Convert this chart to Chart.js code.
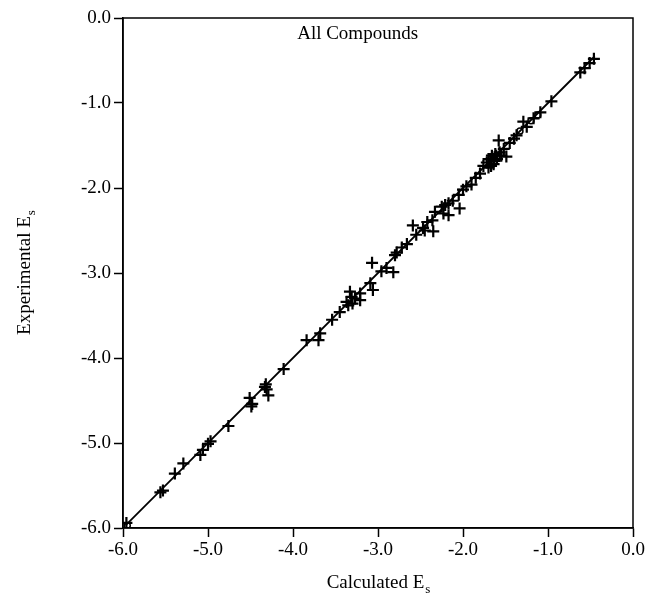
<!DOCTYPE html>
<html>
<head>
<meta charset="utf-8">
<script src="https://cdn.jsdelivr.net/npm/chart.js@4/dist/chart.umd.min.js"></script>
<style>
  html, body { margin: 0; padding: 0; background: #fff; }
  #wrap { width: 648px; height: 595px; position: relative; }
</style>
</head>
<body>
<div id="wrap"><canvas id="c" width="648" height="595"></canvas></div>
<script>
// ---- data ----
const plotTitle = "All Compounds";
const xTitle = ["Calculated E", "s"];
const yTitle = ["Experimental E", "s"];
const tickValues = [-6, -5, -4, -3, -2, -1, 0];

const calcX = [-5.96, -5.56, -5.53, -5.39, -5.29, -5.09, -5.06, -5.00, -4.97, -4.76,
  -4.51, -4.49, -4.48, -4.33, -4.31, -4.29, -4.32, -4.11, -3.84, -3.70,
  -3.68, -3.54, -3.45, -3.37, -3.33, -3.27, -3.21, -3.21, -3.30, -3.06,
  -3.09, -3.07, -2.96, -2.90, -2.82, -2.80, -2.78, -2.72, -2.66, -2.59,
  -2.55, -2.47, -2.45, -2.35, -2.33, -2.36, -2.21, -2.23, -2.17, -2.17,
  -2.04, -2.05, -2.00, -1.96, -1.90, -1.85, -1.80, -1.76, -1.72, -1.70,
  -1.68, -1.66, -1.64, -1.62, -1.60, -1.58, -1.57, -1.55, -1.49, -1.52,
  -1.45, -1.40, -1.37, -1.29, -1.25, -1.17, -1.09, -0.96, -0.62, -0.57,
  -0.51, -0.46, -1.67, -1.63, -1.61, -1.70, -2.25, -2.12, -2.42, -3.31,
  -3.35];
const expY = [-5.94, -5.58, -5.56, -5.36, -5.24, -5.14, -5.08, -5.01, -4.98, -4.80,
  -4.47, -4.57, -4.54, -4.34, -4.37, -4.44, -4.31, -4.13, -3.79, -3.79,
  -3.71, -3.55, -3.46, -3.34, -3.22, -3.30, -3.32, -3.24, -3.36, -3.20,
  -3.12, -2.88, -2.98, -2.94, -2.99, -2.79, -2.76, -2.70, -2.66, -2.44,
  -2.55, -2.47, -2.50, -2.51, -2.28, -2.38, -2.20, -2.30, -2.32, -2.18,
  -2.24, -2.08, -2.02, -1.98, -1.96, -1.88, -1.83, -1.74, -1.70, -1.76,
  -1.66, -1.62, -1.72, -1.60, -1.66, -1.44, -1.58, -1.62, -1.63, -1.54,
  -1.47, -1.42, -1.38, -1.22, -1.28, -1.18, -1.11, -0.98, -0.64, -0.59,
  -0.53, -0.48, -1.74, -1.68, -1.62, -1.66, -2.22, -2.15, -2.40, -3.28,
  -3.38];

const circleX = [-5.95, -1.33, -1.20, -1.12];
const circleY = [-5.97, -1.33, -1.21, -1.14];

const fitX = [-5.97, -0.45];
const fitY = [-5.97, -0.45];

// ---- build ----
const zip = (xs, ys) => xs.map((x, i) => ({ x: x, y: ys[i] }));
const SERIF = "'Liberation Serif', 'Times New Roman', serif";

const framePlugin = {
  id: 'frame',
  afterDraw(chart) {
    const { ctx, chartArea: a } = chart;
    ctx.save();
    ctx.strokeStyle = '#000';
    ctx.lineWidth = 1.5;
    ctx.strokeRect(a.left, a.top, a.right - a.left, a.bottom - a.top);
    // inner title
    ctx.fillStyle = '#000';
    ctx.font = "19px " + SERIF;
    ctx.textAlign = 'center';
    ctx.textBaseline = 'middle';
    ctx.fillText(plotTitle, a.left + (a.right - a.left) * 0.46, a.top + 16);

    // axis titles with subscript
    function drawSub(parts, cx, cy, rot) {
      ctx.save();
      ctx.translate(cx, cy);
      ctx.rotate(rot);
      ctx.font = "19px " + SERIF;
      const w1 = ctx.measureText(parts[0]).width;
      ctx.font = "13px " + SERIF;
      const w2 = ctx.measureText(parts[1]).width;
      const start = -(w1 + w2) / 2;
      ctx.textAlign = 'left';
      ctx.textBaseline = 'alphabetic';
      ctx.font = "19px " + SERIF;
      ctx.fillText(parts[0], start, 6);
      ctx.font = "13px " + SERIF;
      ctx.fillText(parts[1], start + w1 + 1, 11);
      ctx.restore();
    }
    drawSub(xTitle, (a.left + a.right) / 2, 582, 0);
    drawSub(yTitle, 24, (a.top + a.bottom) / 2, -Math.PI / 2);
    ctx.restore();
  }
};

const axisCommon = {
  type: 'linear',
  min: -6,
  max: 0,
  afterBuildTicks(scale) { scale.ticks = tickValues.map(v => ({ value: v })); },
  ticks: {
    color: '#000',
    font: { family: SERIF, size: 19 },
    callback: v => v.toFixed(1)
  },
  grid: {
    drawOnChartArea: false,
    drawTicks: true,
    tickLength: 9,
    tickColor: '#000',
    tickWidth: 1.5,
    color: '#000'
  },
  border: { display: true, color: '#000', width: 1.5 }
};

new Chart(document.getElementById('c'), {
  type: 'scatter',
  data: {
    datasets: [
      {
        label: 'fit',
        data: zip(fitX, fitY),
        showLine: true,
        borderColor: '#000',
        borderWidth: 1.8,
        pointRadius: 0
      },
      {
        label: 'compounds',
        data: zip(calcX, expY),
        pointStyle: 'cross',
        pointRadius: 6,
        borderColor: '#000',
        backgroundColor: '#000',
        pointBorderWidth: 2.2
      },
      {
        label: 'circles',
        data: zip(circleX, circleY),
        pointStyle: 'circle',
        pointRadius: 3,
        borderColor: '#000',
        backgroundColor: 'rgba(0,0,0,0)',
        pointBorderWidth: 1.5
      }
    ]
  },
  options: {
    responsive: false,
    animation: false,
    layout: { padding: { left: 0, right: 15, top: 18, bottom: 0 } },
    plugins: { legend: { display: false }, tooltip: { enabled: false }, title: { display: false } },
    scales: {
      x: Object.assign({}, axisCommon, {
        position: 'bottom',
        ticks: Object.assign({}, axisCommon.ticks, { padding: 2, maxRotation: 0 }),
        afterFit(scale) { scale.height = 67; }
      }),
      y: Object.assign({}, axisCommon, {
        position: 'left',
        ticks: Object.assign({}, axisCommon.ticks, { padding: 3 }),
        afterFit(scale) { scale.width = 123; }
      })
    }
  },
  plugins: [framePlugin]
});
</script>
</body>
</html>
